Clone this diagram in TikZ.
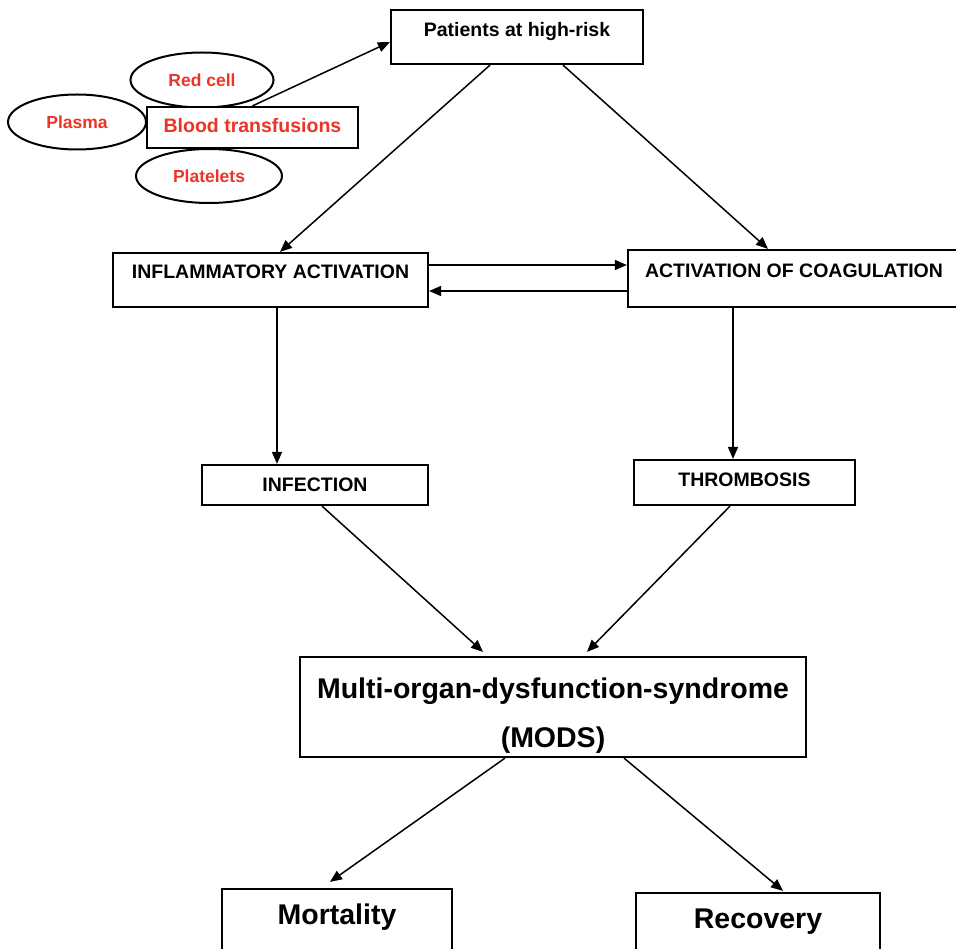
\documentclass[tikz,border=0pt]{standalone}
\usepackage{fontspec}
\setmainfont{Liberation Sans}
\usepackage{xcolor}
\usepackage{tikz}
\usetikzlibrary{arrows.meta, shapes.geometric}

\definecolor{txtred}{RGB}{235,52,38}

\begin{document}
\begin{tikzpicture}[
    x=1pt, y=-1pt,
    box/.style={draw, line width=2.2pt, fill=white, inner sep=0pt, align=center, font=\bfseries\fontsize{19.5}{23}\selectfont},
    bigbox/.style={box, font=\bfseries\fontsize{28.5}{49}\selectfont},
    bubble/.style={ellipse, draw, line width=2pt, inner sep=0pt, text=txtred, font=\bfseries\fontsize{17.5}{21}\selectfont},
    arrow/.style={-{Triangle[length=12pt, width=10pt]}, line width=1.5pt}
]
\useasboundingbox (0,0) rectangle (956,949);
\clip (0,0) rectangle (956,949);

% transfusion cluster
\node[bubble, minimum width=143pt, minimum height=55pt] (redcell) at (202,80) {Red cell};
\node[bubble, minimum width=138pt, minimum height=55pt] (plasma) at (77,122) {Plasma};
\node[bubble, minimum width=146pt, minimum height=54pt] (platelets) at (209,176) {Platelets};
\node[box, text=txtred, minimum width=211pt, minimum height=41pt, text height=14pt, text depth=3pt] (blood) at (252.5,127.5) {Blood transfusions};

% top
\node[box, minimum width=252pt, minimum height=54pt, text height=14pt, text depth=14pt] (patients) at (517,37) {Patients at high-risk};

% activation row
\node[box, minimum width=315pt, minimum height=54pt, text height=14pt, text depth=16pt] (inflam) at (270.5,280) {INFLAMMATORY ACTIVATION};
\node[box, minimum width=332pt, minimum height=57pt, text height=14pt, text depth=15pt] (coag) at (794,278.5) {ACTIVATION OF COAGULATION};

% complications
\node[box, minimum width=226pt, minimum height=40pt, text height=14pt, text depth=2pt] (infection) at (315,485) {INFECTION};
\node[box, minimum width=221pt, minimum height=45pt, text height=14pt, text depth=7pt] (thrombo) at (744.5,482.5) {THROMBOSIS};

% MODS
\node[bigbox, minimum width=506pt, minimum height=100pt] (mods) at (553,707) {\rule{0pt}{37pt}Multi-organ-dysfunction-syndrome\\(MODS)};

% outcomes
\node[bigbox, minimum width=230pt, minimum height=70pt, text height=20pt, text depth=20pt] (mortality) at (337,924) {Mortality};
\node[bigbox, minimum width=244pt, minimum height=70pt, text height=20pt, text depth=20pt] (recovery) at (758,928) {Recovery};

% arrows
\draw[arrow] (blood.north) -- ([yshift=-5pt]patients.west);
\draw[arrow] ([xshift=-27pt]patients.south) -- ([xshift=9.5pt]inflam.north);
\draw[arrow] ([xshift=46pt]patients.south) -- ([xshift=-26pt]coag.north);

\coordinate (fwd) at ([yshift=15pt]inflam.east);
\coordinate (bwd) at ([yshift=-11pt]inflam.east);
\draw[arrow] (fwd) -- (fwd -| coag.west);
\draw[arrow] (bwd -| coag.west) -- (bwd);

\coordinate (infdown) at ([xshift=6.5pt]inflam.south);
\coordinate (coagdown) at ([xshift=-61pt]coag.south);
\draw[arrow] (infdown) -- (infdown |- infection.north);
\draw[arrow] (coagdown) -- (coagdown |- thrombo.north);

\draw[arrow] ([xshift=7pt]infection.south) -- ([xshift=-70pt, yshift=4pt]mods.north);
\draw[arrow] ([xshift=-14.5pt]thrombo.south) -- ([xshift=34pt, yshift=4pt]mods.north);

\draw[arrow] ([xshift=-48pt]mods.south) -- ([xshift=-7pt, yshift=6pt]mortality.north);
\draw[arrow] ([xshift=71pt]mods.south) -- ([xshift=25pt, yshift=1pt]recovery.north);
\end{tikzpicture}
\end{document}
